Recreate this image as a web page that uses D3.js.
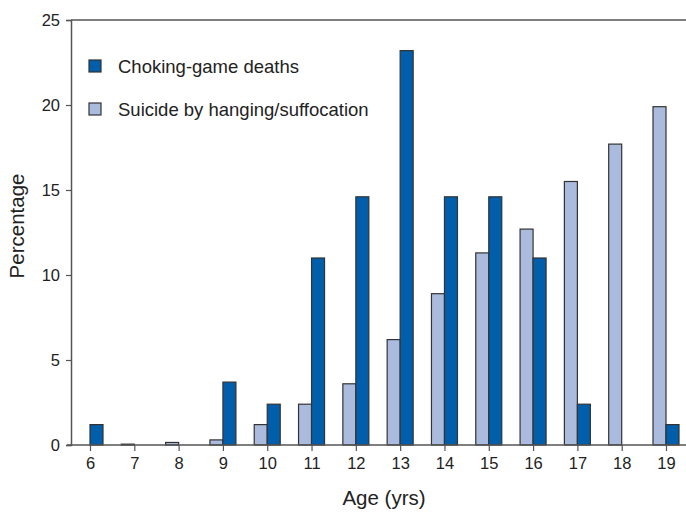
<!DOCTYPE html>
<html>
<head>
<meta charset="utf-8">
<script src="https://cdn.jsdelivr.net/npm/d3@7"></script>
<style>
  html, body { margin: 0; padding: 0; background: #fff; }
  svg { display: block; font-family: "Liberation Sans", Arial, Helvetica, sans-serif; }
</style>
</head>
<body>
<svg id="chart" width="686" height="512"></svg>
<script>
const ages = [6, 7, 8, 9, 10, 11, 12, 13, 14, 15, 16, 17, 18, 19];
const chokingDeaths = [1.2, 0, 0, 3.7, 2.4, 11.0, 14.6, 23.2, 14.6, 14.6, 11.0, 2.4, 0, 1.2];
const suicideHanging = [0, 0.05, 0.15, 0.3, 1.2, 2.4, 3.6, 6.2, 8.9, 11.3, 12.7, 15.5, 17.7, 19.9];
const yTicks = [0, 5, 10, 15, 20, 25];
const seriesNames = ["Choking-game deaths", "Suicide by hanging/suffocation"];
const colors = ["#005eaa", "#aabbdd"];

(function () {
const svg = d3.select("#chart");
const mLeft = 71, mRight = 686, mTop = 20, mBottom = 445;
const x = d3.scalePoint().domain(ages).range([90, 666]);
const y = d3.scaleLinear().domain([0, 25]).range([mBottom, mTop]);
const bw = 13;
const axisColor = "#555";
const font = "'Liberation Sans', Arial, sans-serif";

svg.append("g").selectAll("rect")
  .data(ages.map((a, i) => ({a, v: suicideHanging[i]})).filter(d => d.v > 0))
  .join("rect")
  .attr("x", d => x(d.a) - bw)
  .attr("y", d => y(d.v))
  .attr("width", bw)
  .attr("height", d => y(0) - y(d.v))
  .attr("fill", colors[1])
  .attr("stroke", "#333")
  .attr("stroke-width", 1.2);

svg.append("g").selectAll("rect")
  .data(ages.map((a, i) => ({a, v: chokingDeaths[i]})).filter(d => d.v > 0))
  .join("rect")
  .attr("x", d => x(d.a))
  .attr("y", d => y(d.v))
  .attr("width", bw)
  .attr("height", d => y(0) - y(d.v))
  .attr("fill", colors[0])
  .attr("stroke", "#333")
  .attr("stroke-width", 1.2);

svg.append("line").attr("x1", mLeft).attr("x2", mRight).attr("y1", mTop).attr("y2", mTop)
  .attr("stroke", axisColor).attr("stroke-width", 1.5);

const yAxis = d3.axisLeft(y).tickValues(yTicks).tickSize(5).tickPadding(6);
const gy = svg.append("g").attr("transform", `translate(${mLeft},0)`).call(yAxis);
gy.attr("font-size", null).attr("font-family", null);
gy.select(".domain").attr("stroke", axisColor).attr("stroke-width", 1.5);
gy.selectAll(".tick line").attr("stroke", axisColor).attr("stroke-width", 1.2);
gy.selectAll(".tick text").style("font-size", "16.5px").attr("fill", "#222").style("font-family", font);

const xAxis = d3.axisBottom(x).tickSize(6).tickPadding(6).tickSizeOuter(0);
const gx = svg.append("g").attr("transform", `translate(0,${mBottom})`).call(xAxis);
gx.attr("font-size", null).attr("font-family", null);
gx.select(".domain").remove();
svg.append("line").attr("x1", mLeft - 4).attr("x2", mRight).attr("y1", mBottom).attr("y2", mBottom)
  .attr("stroke", axisColor).attr("stroke-width", 1.5);
gx.selectAll(".tick line").attr("stroke", axisColor).attr("stroke-width", 1.2);
gx.selectAll(".tick text").style("font-size", "16.5px").attr("fill", "#222").style("font-family", font);

svg.append("text").attr("x", 384).attr("y", 505).attr("text-anchor", "middle")
  .style("font-size", "20.5px").attr("fill", "#222").text("Age (yrs)");
svg.append("text").attr("transform", "translate(24,226) rotate(-90)").attr("text-anchor", "middle")
  .style("font-size", "20.5px").attr("fill", "#222").text("Percentage");

const leg = svg.append("g");
seriesNames.forEach((name, i) => {
  const cy = 66 + i * 43;
  leg.append("rect").attr("x", 89).attr("y", cy - 6).attr("width", 12).attr("height", 12)
    .attr("fill", colors[i]).attr("stroke", "#333").attr("stroke-width", 1.2);
  leg.append("text").attr("x", 118).attr("y", cy + 6.5).style("font-size", "18.5px").attr("fill", "#222").text(name);
});
})();
</script>
</body>
</html>
